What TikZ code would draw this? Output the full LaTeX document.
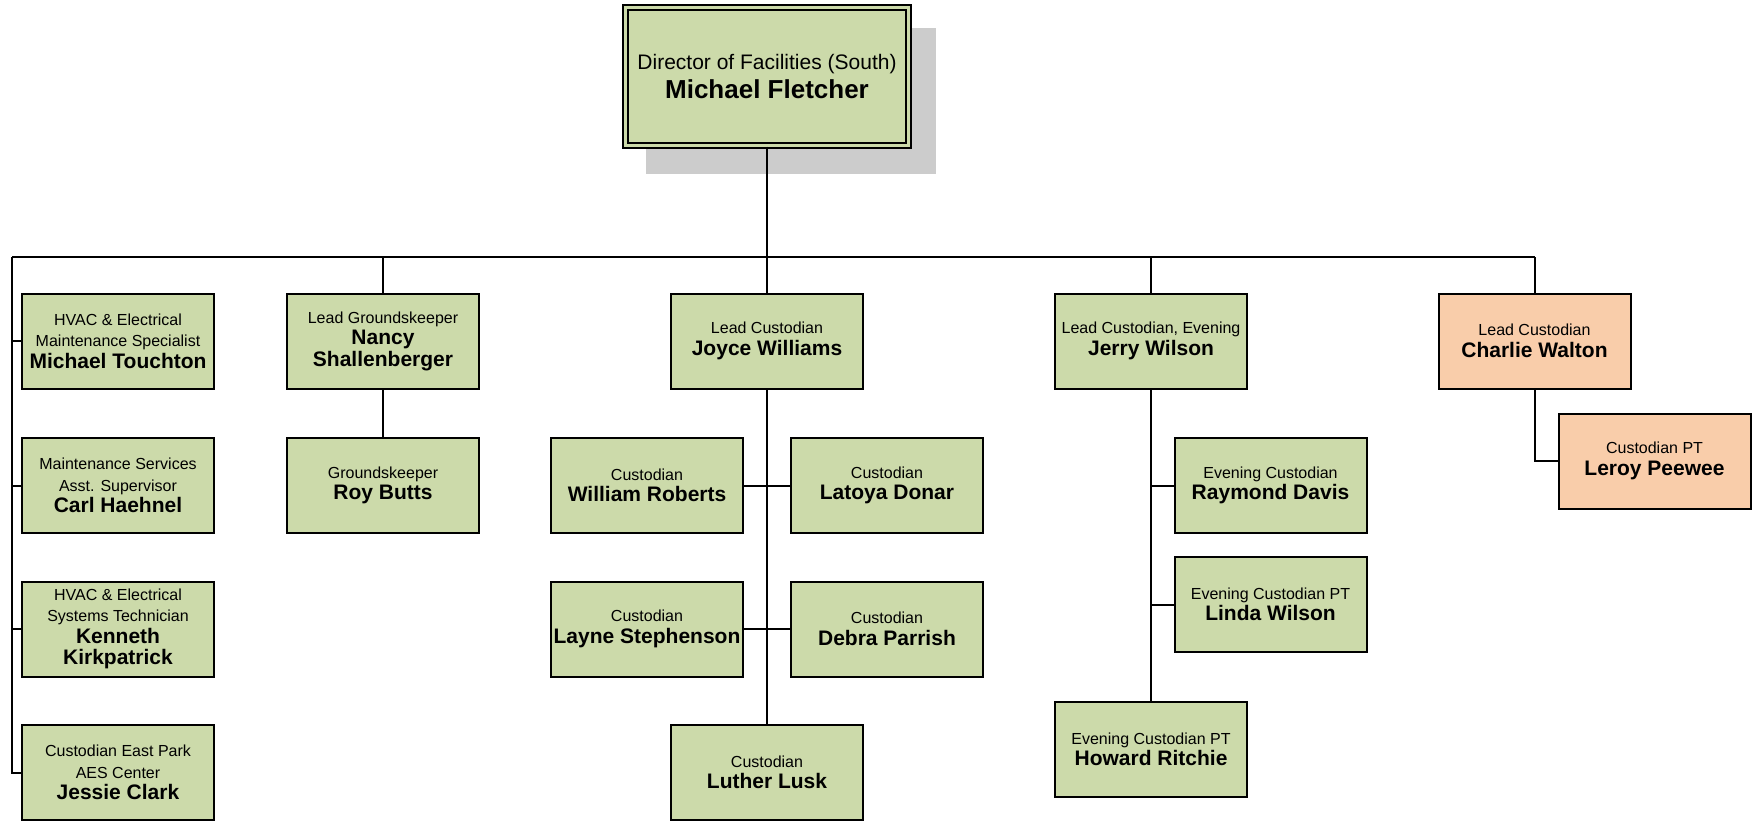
\documentclass[tikz,border=0pt]{standalone}
\usepackage{fontspec}
\setmainfont{Liberation Sans}
\definecolor{gfill}{HTML}{CCDAAA}
\definecolor{ofill}{HTML}{F9CDAA}
\definecolor{shadowgray}{HTML}{CCCCCC}
\newcommand\pname[1]{{\fontsize{10.5}{12}\selectfont\bfseries #1}}
\begin{document}
\begin{tikzpicture}[x=0.5pt,y=-0.5pt,
  pbox/.style={draw=black, line width=1pt, fill=gfill, minimum width=96pt, minimum height=47.5pt, align=center, inner sep=1pt, font=\fontsize{8}{10.75}\selectfont},
  obox/.style={pbox, fill=ofill},
  conn/.style={draw=black, line width=1pt}]
\useasboundingbox (0,0) rectangle (1755,821);
% top
\fill[shadowgray] (646,28) rectangle (936,174);
\node[draw=black, line width=1pt, double=gfill, double distance=1.5pt, fill=gfill,
  minimum width=141.5pt, minimum height=69pt, align=center, inner sep=1pt,
  font=\fontsize{10.5}{14.5}\selectfont] (mf) at (767,76.5)
  {Director of Facilities (South)\\{\fontsize{13}{14}\selectfont\bfseries Michael Fletcher}};
% level 1
\node[pbox] (mt) at (118,341) {HVAC \& Electrical\\Maintenance Specialist\\\pname{Michael Touchton}};
\node[pbox] (ch) at (118,485.5) {Maintenance Services\\Asst. Supervisor\\\pname{Carl Haehnel}};
\node[pbox] (kk) at (118,629) {HVAC \& Electrical\\Systems Technician\\\pname{Kenneth}\\\pname{Kirkpatrick}};
\node[pbox] (jc) at (118,772.5) {Custodian East Park\\AES Center\\\pname{Jessie Clark}};
\node[pbox] (ns) at (383,341) {Lead Groundskeeper\\\pname{Nancy}\\\pname{Shallenberger}};
\node[pbox] (rb) at (383,485.5) {Groundskeeper\\\pname{Roy Butts}};
\node[pbox] (jw) at (767,341) {Lead Custodian\\\pname{Joyce Williams}};
\node[pbox] (wr) at (647,485.5) {Custodian\\\pname{William Roberts}};
\node[pbox] (ld) at (887,485.5) {Custodian\\\pname{Latoya Donar}};
\node[pbox] (ls) at (647,629) {Custodian\\\pname{Layne Stephenson}};
\node[pbox] (dp) at (887,629) {Custodian\\\pname{Debra Parrish}};
\node[pbox] (ll) at (767,772.5) {Custodian\\\pname{Luther Lusk}};
\node[pbox] (jy) at (1151,341) {Lead Custodian, Evening\\\pname{Jerry Wilson}};
\node[pbox] (rd) at (1270.5,485.5) {Evening Custodian\\\pname{Raymond Davis}};
\node[pbox] (lw) at (1270.5,604.5) {Evening Custodian PT\\\pname{Linda Wilson}};
\node[pbox] (hr) at (1151,749.5) {Evening Custodian PT\\\pname{Howard Ritchie}};
\node[obox] (cw) at (1534.5,341) {Lead Custodian\\\pname{Charlie Walton}};
\node[obox] (lp) at (1654.5,461) {Custodian PT\\\pname{Leroy Peewee}};
% bus
\coordinate (busL) at (12,257);
\coordinate (busR) at (1534.5,257);
\draw[conn] (mf.south) -- (mf.south |- busL);
\draw[conn] (busL) -- (busR);
\draw[conn] (busL) |- (mt.west);
\draw[conn] (busL) |- (ch.west);
\draw[conn] (busL) |- (kk.west);
\draw[conn] (busL) |- (jc.west);
\draw[conn] (ns.north |- busL) -- (ns.north);
\draw[conn] (jw.north |- busL) -- (jw.north);
\draw[conn] (jy.north |- busL) -- (jy.north);
\draw[conn] (busR) -- (cw.north);
% subtrees
\draw[conn] (ns) -- (rb);
\draw[conn] (jw.south) -- (ll.north);
\draw[conn] (wr.east) -- (ld.west);
\draw[conn] (ls.east) -- (dp.west);
\draw[conn] (jy.south) -- (hr.north);
\draw[conn] (jy.south) |- (rd.west);
\draw[conn] (jy.south) |- (lw.west);
\draw[conn] (cw.south) |- (lp.west);
\end{tikzpicture}
\end{document}
